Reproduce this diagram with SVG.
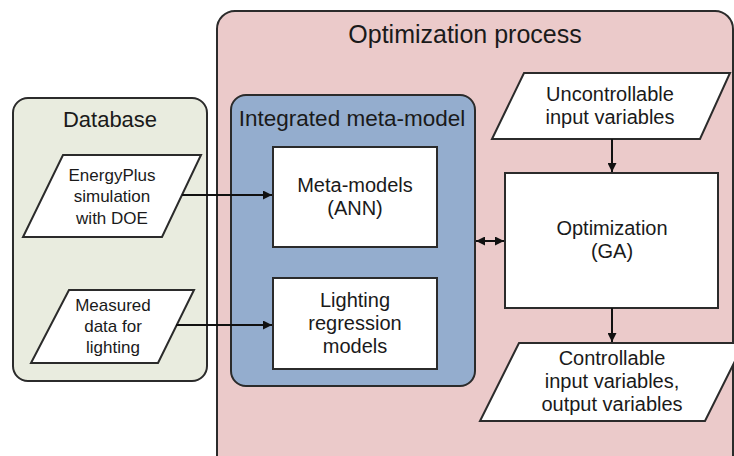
<svg xmlns="http://www.w3.org/2000/svg" width="734" height="456" viewBox="0 0 734 456">
  <style>
    .frame { stroke: #2b2b2b; stroke-width: 2; }
    .node { fill: #ffffff; stroke: #2b2b2b; stroke-width: 2; }
    .title { font-family: "Liberation Sans", Arial, sans-serif; fill: #1a1a1a; text-anchor: middle; }
    .label { font-family: "Liberation Sans", Arial, sans-serif; font-size: 20px; fill: #1a1a1a; text-anchor: middle; }
    .small { font-size: 17px; }
    .edge { stroke: #111111; stroke-width: 2; fill: none; }
  </style>
  <defs>
    <marker id="arrow" viewBox="0 0 10 10" refX="10" refY="5" markerWidth="10" markerHeight="9" markerUnits="userSpaceOnUse" orient="auto-start-reverse">
      <path d="M0,0 L10,5 L0,10 Z" fill="#111111"/>
    </marker>
  </defs>

  <rect width="734" height="456" fill="#ffffff"/>

  <!-- containers -->
  <g id="optimization-process">
    <rect class="frame" x="217" y="11" width="516" height="462" rx="18" fill="#ebcaca"/>
    <text class="title" x="465" y="43" font-size="25">Optimization process</text>
  </g>
  <g id="database">
    <rect class="frame" x="13" y="98" width="194" height="283" rx="15" fill="#e9ecdf"/>
    <text class="title" x="110" y="127" font-size="22">Database</text>
  </g>
  <g id="integrated-meta-model">
    <rect class="frame" x="231" y="95" width="244" height="291" rx="15" fill="#94adce"/>
    <text class="title" x="352" y="126" font-size="22.5">Integrated meta-model</text>
  </g>

  <!-- data sources -->
  <g id="energyplus">
    <polygon class="node" points="63,155 201,155 162,237 23,237"/>
    <text class="label small" x="112" y="181">EnergyPlus</text>
    <text class="label small" x="112" y="202">simulation</text>
    <text class="label small" x="112" y="224">with DOE</text>
  </g>
  <g id="measured-data">
    <polygon class="node" points="69,290 194,290 158,363 31,363"/>
    <text class="label small" x="113" y="311">Measured</text>
    <text class="label small" x="113" y="332">data for</text>
    <text class="label small" x="113" y="353">lighting</text>
  </g>

  <!-- meta-models -->
  <g id="meta-models">
    <rect class="node" x="273" y="147" width="164" height="100"/>
    <text class="label" x="355" y="192">Meta-models</text>
    <text class="label" x="355" y="215">(ANN)</text>
  </g>
  <g id="lighting-regression">
    <rect class="node" x="273" y="278" width="164" height="91"/>
    <text class="label" x="355" y="307">Lighting</text>
    <text class="label" x="355" y="330">regression</text>
    <text class="label" x="355" y="353">models</text>
  </g>

  <!-- optimization side -->
  <g id="uncontrollable-inputs">
    <polygon class="node" points="524,73 730,73 700,139 492,139"/>
    <text class="label" x="610" y="101">Uncontrollable</text>
    <text class="label" x="610" y="124">input variables</text>
  </g>
  <g id="optimization-ga">
    <rect class="node" x="505" y="173" width="213" height="135"/>
    <text class="label" x="612" y="235">Optimization</text>
    <text class="label" x="612" y="258">(GA)</text>
  </g>
  <g id="controllable-outputs">
    <polygon class="node" points="519,343 744,343 705,421 480,421"/>
    <text class="label" x="612" y="365">Controllable</text>
    <text class="label" x="612" y="388">input variables,</text>
    <text class="label" x="612" y="411">output variables</text>
  </g>

  <!-- connectors -->
  <g id="connectors">
    <line class="edge" x1="182" y1="195" x2="272" y2="195" marker-end="url(#arrow)"/>
    <line class="edge" x1="176" y1="325" x2="272" y2="325" marker-end="url(#arrow)"/>
    <line class="edge" x1="476" y1="241" x2="504" y2="241" marker-start="url(#arrow)" marker-end="url(#arrow)"/>
    <line class="edge" x1="612" y1="139" x2="612" y2="172" marker-end="url(#arrow)"/>
    <line class="edge" x1="612" y1="308" x2="612" y2="342" marker-end="url(#arrow)"/>
  </g>
</svg>
